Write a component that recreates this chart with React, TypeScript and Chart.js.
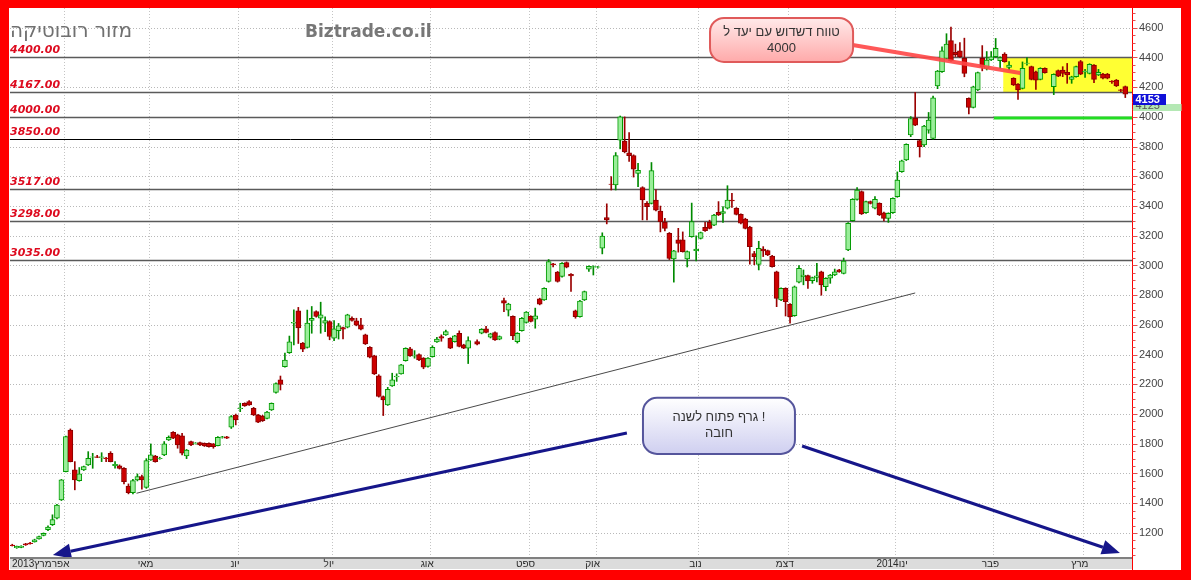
import { useEffect, useRef } from 'react';
import { Chart, registerables } from 'chart.js';
Chart.register(...registerables);

// ---- OHLC data (one slot per trading day, null = no candle) ----
const openP = [
1118,1100,1102,1126,1132,1140,1160,1184,1222,1256,
1299,1422,1613,1893,1624,1552,1624,1658,1710,1712,
1709,1704,1736,1652,1651,1635,1516,1471,1557,1579,
1507,1691,1718,1700,1725,1826,1877,1860,1853,1718,
1815,1801,1808,1803,1803,1799,1788,1842,1846,1911,
1994,2037,2072,2084,2039,1994,1987,1971,2028,2146,
2230,2319,2413,2612,2695,2477,2448,2630,2690,2645,
2612,2623,2510,2562,2582,2585,2645,2627,2600,2533,
2450,2392,2257,2118,2062,2190,2250,2271,2360,2439,
2390,2401,2376,2320,2387,2486,2522,2533,2510,2488,
2544,2466,2443,null,2488,2544,2573,2517,2549,2504,
2764,2700,2657,2488,2562,2616,2657,2638,2775,2769,
2892,3011,2955,2926,3020,2940,2694,2656,2768,2976,
2988,2988,3116,3322,3548,3542,3844,3838,3759,3739,
3620,3524,3418,3418,3441,3367,3290,3216,3044,3172,
3172,3044,3194,3099,3183,3257,3290,3272,3358,3351,
3385,3440,3385,3344,3313,3259,3080,3007,3111,3100,
3064,2958,2768,2846,2739,2662,2887,2925,2932,2898,
2920,2958,2857,2914,2936,2970,2947,3105,3302,3445,
3497,3355,3430,3385,3418,3355,3317,3355,3463,3631,
3710,3878,3990,3840,3811,3911,3855,4208,4304,4394,
4513,4434,4445,4394,4125,4064,4181,4394,4327,4383,
4405,4378,4423,4333,4260,4221,4192,4360,4338,4304,
4253,4327,null,4204,4311,4316,4300,4253,4271,4372,
4302,4293,4349,4282,4289,4289,4240,4248,4182,4204,
null];
const highP = [
1124,1112,1114,1130,1136,1158,1178,1200,1248,1322,
1392,1560,1852,1900,1680,1640,1650,1747,1736,1722,
1740,1708,1747,1680,1658,1640,1530,1560,1597,1590,
1700,1799,1722,1710,1815,1853,1882,1865,1870,1762,
1818,1808,1812,1806,1806,1802,1848,1850,1850,1990,
2000,2073,2076,2090,2045,1998,1992,2018,2075,2210,
2256,2410,2525,2701,2718,2482,2700,2724,2695,2753,
2655,2628,2630,2610,2586,2672,2655,2645,2645,2538,
2455,2396,2265,2122,2180,2275,2271,2335,2446,2450,
2427,2405,2380,2380,2460,2517,2533,2566,2514,2530,
2560,2470,2520,null,2500,2575,2590,2544,2553,2526,
2780,2746,2662,2548,2650,2690,2662,2713,2780,2850,
3040,3015,2960,3020,3024,2945,2700,2765,2828,2998,
2998,2994,3220,3415,3598,3760,4006,4000,3895,3745,
3687,3530,3430,3693,3509,3400,3318,3222,3102,3250,
3226,3098,3420,3200,3225,3290,3305,3344,3430,3396,
3537,3485,3390,3348,3318,3264,3095,3163,3127,3104,
3068,2962,2850,2850,2743,2862,3000,2970,2936,2922,
3014,2962,2918,2940,2976,2974,3050,3288,3450,3525,
3502,3434,3434,3464,3422,3359,3355,3456,3630,3709,
3819,4002,4165,3844,3943,4030,4140,4313,4472,4560,
4605,4490,4500,4530,4129,4207,4302,4480,4440,4440,
4528,4404,4432,4372,4264,4225,4370,4400,4342,4308,
4331,4331,null,4290,4316,4338,4360,4274,4342,4380,
4320,4358,4353,4320,4293,4293,4244,4252,4186,4208,
null];
const lowP = [
1112,1096,1100,1116,1124,1138,1158,1180,1215,1250,
1295,1418,1610,1678,1490,1548,1620,1654,1635,1706,
1680,1680,1678,1636,1630,1530,1463,1463,1550,1494,
1500,1688,1676,1696,1720,1822,1835,1770,1725,1700,
1788,1798,1788,1782,1778,1770,1785,1838,1835,1903,
1927,2016,2052,2058,1990,1942,1950,1968,2024,2140,
2162,2315,2408,2466,2475,2420,2444,2544,2652,2544,
2555,2500,2494,2505,2505,2580,2625,2594,2566,2468,
2378,2266,2114,1990,2058,2186,2220,2268,2356,2388,
2376,2360,2305,2316,2383,2482,2490,2530,2440,2484,
2452,2440,2340,null,2466,2540,2546,2512,2495,2500,
2690,2660,2500,2478,2558,2612,2620,2578,2735,2765,
2888,2990,2888,2922,2984,2825,2645,2652,2764,2960,
2936,2982,3078,3280,3508,3508,3785,3758,3700,3595,
3530,3307,3307,3414,3368,3226,3232,3040,2888,3090,
3090,2990,3190,3030,3178,3230,3246,3268,3336,3290,
3380,3390,3340,3280,3246,3009,3005,2970,3060,3066,
2988,2723,2764,2660,2612,2658,2883,2870,2846,2880,
2890,2800,2830,2880,2932,2954,2943,3100,3298,3440,
3343,3351,3414,3381,3336,3300,3290,3351,3459,3627,
3706,3867,3941,3730,3800,3890,3850,4190,4300,4390,
4374,4406,4401,4270,4020,4060,4177,4310,4316,4379,
4401,4327,4368,4316,4211,4118,4188,4349,4249,4185,
4249,4294,null,4150,4271,4271,4226,4226,4267,4284,
4266,4289,4230,4278,4256,4256,4225,4204,4170,4130,
null];
const closeP = [
1114,1110,1112,1120,1128,1154,1175,1198,1240,1290,
1388,1557,1848,1680,1557,1597,1646,1702,1713,1709,
1712,1700,1680,1662,1635,1545,1471,1552,1579,1557,
1687,1725,1680,1702,1799,1844,1837,1792,1736,1758,
1792,1805,1792,1785,1781,1781,1844,1846,1837,1983,
1960,2041,2054,2061,1994,1945,1956,2014,2072,2206,
2200,2363,2487,2618,2580,2437,2612,2645,2657,2668,
2630,2522,2573,2594,2571,2668,2630,2598,2571,2472,
2383,2271,2118,2096,2167,2230,2255,2331,2443,2392,
2394,2365,2315,2376,2450,2504,2510,2555,2443,2526,
2455,2443,2495,null,2470,2571,2549,2540,2499,2522,
2746,2740,2526,2544,2645,2686,2623,2661,2739,2847,
3026,3004,2892,3015,2988,2930,2656,2761,2824,2994,
2992,2991,3198,3306,3545,3739,4001,3766,3739,3649,
3640,3441,3396,3638,3373,3295,3250,3048,3098,3149,
3093,3093,3295,3110,3221,3234,3250,3340,3340,3362,
3441,3435,3344,3284,3250,3127,3060,3115,3098,3071,
2992,2779,2846,2757,2656,2857,2981,2936,2896,2918,
2930,2869,2914,2936,2958,2958,3030,3284,3445,3508,
3347,3430,3418,3445,3340,3317,3351,3452,3575,3705,
3815,3989,3945,3800,3939,3979,4129,4309,4445,4490,
4378,4419,4405,4293,4064,4203,4298,4338,4383,4405,
4462,4400,4372,4349,4215,4181,4327,4362,4253,4248,
4327,4298,null,4286,4275,4293,4282,4270,4338,4288,
4306,4354,4253,4300,4260,4260,4236,4208,4178,4153,
null];

// ---- axis / annotation values ----
const yMin = 1038;
const yMax = 4733;
const yStep = 200;
const monthStarts = [12, 31, 51, 72, 94, 116, 131, 154, 174, 198, 220, 240];
const monthLabels = ['אפר', 'מאי', 'יונ', 'יול', 'אוג', 'ספט', 'אוק', 'נוב', 'דצמ', 'ינו2014', 'פבר', 'מרץ'];
const firstMonthLabel = 'מרץ2013';
const levelValues = [4400, 4167, 4000, 3850, 3517, 3298, 3035];
const lastValue = 4153;
const hiddenValue = '4125';
const titleHe = 'מזור רובוטיקה';
const titleSite = 'Biztrade.co.il';
const trendLine = [[27.8, 1467], [202, 2815]];
const pointerLine = [[188, 4484], [225.5, 4296]];
const targetLine = [[219.6, 3993], [250.5, 3993]];
const rangeBox = { x0: 221.7, x1: 250.5, lo: 4167, hi: 4400 };
const callout1 = { x0: 156.1, x1: 188.1, lo: 4370, hi: 4666, lines: ['טווח דשדוש עם יעד ל', '4000'] };
const callout2 = { x0: 141.1, x1: 175.1, lo: 1732, hi: 2109, lines: ['גרף פתוח לשנה !', 'חובה'] };
const arrows = [
  [[137.5, 1873], [9.1, 1052]],
  [[176.7, 1785], [247.8, 1065]],
];

const slots = openP.map((_, i) => i);
const labels = slots.map((i) => String(i));
const isUp = (i: number) => (closeP[i] as number) >= (openP[i] as number);

function drawArrow(ctx: CanvasRenderingContext2D, x1: number, y1: number, x2: number, y2: number) {
  const ang = Math.atan2(y2 - y1, x2 - x1);
  const hl = 18, hw = 7.5;
  const bx = x2 - hl * Math.cos(ang), by = y2 - hl * Math.sin(ang);
  ctx.beginPath(); ctx.moveTo(x1, y1); ctx.lineTo(bx, by); ctx.stroke();
  ctx.beginPath();
  ctx.moveTo(x2, y2);
  ctx.lineTo(bx + hw * Math.sin(ang), by - hw * Math.cos(ang));
  ctx.lineTo(bx - hw * Math.sin(ang), by + hw * Math.cos(ang));
  ctx.closePath(); ctx.fill();
}

const backPlugin = {
  id: 'backPlugin',
  beforeDraw(chart: any) {
    const { ctx, chartArea: ca, scales } = chart;
    const x = scales.x, y = scales.y;
    const W = chart.width, H = chart.height;
    ctx.save();
    ctx.fillStyle = '#ff0000';
    ctx.fillRect(0, 0, W, H);
    ctx.fillStyle = '#ffffff';
    ctx.fillRect(9, 8, 1181 - 9, 570 - 8);
    // horizontal dotted grid
    ctx.lineWidth = 1;
    ctx.strokeStyle = '#b8b8b8';
    ctx.setLineDash([1, 2]);
    y.ticks.forEach((t: any) => {
      const py = Math.round(y.getPixelForValue(t.value)) + 0.5;
      ctx.beginPath(); ctx.moveTo(ca.left, py); ctx.lineTo(ca.right, py); ctx.stroke();
    });
    ctx.strokeStyle = '#c4c4c4';
    monthStarts.forEach((k) => {
      const px = Math.round(x.getPixelForValue(k - 0.5)) + 0.5;
      ctx.beginPath(); ctx.moveTo(px, ca.top); ctx.lineTo(px, ca.bottom); ctx.stroke();
    });
    ctx.setLineDash([]);
    // range box
    const bx0 = x.getPixelForValue(rangeBox.x0);
    const bx1 = x.getPixelForValue(rangeBox.x1);
    const by0 = y.getPixelForValue(rangeBox.hi);
    const by1 = y.getPixelForValue(rangeBox.lo);
    ctx.fillStyle = '#ffff33';
    ctx.fillRect(bx0, by0, bx1 - bx0, by1 - by0);
    // level lines + labels
    levelValues.forEach((v) => {
      const py = Math.round(y.getPixelForValue(v)) + 0.5;
      ctx.strokeStyle = v === 3850 ? '#000000' : '#5a5a5a';
      ctx.lineWidth = v === 3850 ? 1 : 1.5;
      ctx.beginPath(); ctx.moveTo(ca.left, py); ctx.lineTo(ca.right, py); ctx.stroke();
      ctx.fillStyle = '#dd0a1e';
      ctx.font = 'italic bold 11px "DejaVu Sans"';
      ctx.textAlign = 'left';
      ctx.textBaseline = 'alphabetic';
      ctx.fillText(v.toFixed(2), 10, py - 5);
    });
    // titles
    ctx.fillStyle = '#707070';
    ctx.font = '20px "DejaVu Sans"';
    ctx.textAlign = 'left';
    ctx.direction = 'ltr';
    ctx.fillText(titleHe, 10, 37);
    ctx.font = 'bold 17px "DejaVu Sans"';
    ctx.fillStyle = '#777777';
    ctx.fillText(titleSite, 305, 37);
    ctx.restore();
  },
};

function drawCallout(ctx: CanvasRenderingContext2D, x: any, y: any, c: any, top: string, bottom: string, stroke: string, textColor: string) {
  const x0 = x.getPixelForValue(c.x0), x1 = x.getPixelForValue(c.x1);
  const y0 = y.getPixelForValue(c.hi), y1 = y.getPixelForValue(c.lo);
  const g = ctx.createLinearGradient(0, y0, 0, y1);
  g.addColorStop(0, top);
  g.addColorStop(1, bottom);
  ctx.beginPath();
  (ctx as any).roundRect(x0, y0, x1 - x0, y1 - y0, 14);
  ctx.fillStyle = g;
  ctx.fill();
  ctx.lineWidth = 2;
  ctx.strokeStyle = stroke;
  ctx.stroke();
  ctx.fillStyle = textColor;
  ctx.font = '13px "Liberation Sans"';
  ctx.textAlign = 'center';
  ctx.textBaseline = 'middle';
  ctx.direction = 'ltr';
  const cx = (x0 + x1) / 2, cy = (y0 + y1) / 2;
  ctx.fillText(c.lines[0], cx, cy - 8);
  ctx.fillText(c.lines[1], cx, cy + 8);
}

const frontPlugin = {
  id: 'frontPlugin',
  afterDatasetsDraw(chart: any) {
    const { ctx, chartArea: ca, scales } = chart;
    const x = scales.x, y = scales.y;
    const P = (p: number[]) => [x.getPixelForValue(p[0]), y.getPixelForValue(p[1])];
    ctx.save();
    // trend line
    let a = P(trendLine[0]), b = P(trendLine[1]);
    ctx.strokeStyle = '#4a4a4a'; ctx.lineWidth = 1;
    ctx.beginPath(); ctx.moveTo(a[0], a[1]); ctx.lineTo(b[0], b[1]); ctx.stroke();
    // target line
    a = P(targetLine[0]); b = P(targetLine[1]);
    ctx.strokeStyle = '#22dd22'; ctx.lineWidth = 3;
    ctx.beginPath(); ctx.moveTo(a[0], a[1]); ctx.lineTo(b[0], b[1]); ctx.stroke();
    // pointer
    a = P(pointerLine[0]); b = P(pointerLine[1]);
    ctx.strokeStyle = 'rgba(255,70,70,0.9)'; ctx.lineWidth = 4;
    ctx.beginPath(); ctx.moveTo(a[0], a[1]); ctx.lineTo(b[0], b[1]); ctx.stroke();
    // arrows
    ctx.strokeStyle = '#16168a'; ctx.fillStyle = '#16168a'; ctx.lineWidth = 3;
    arrows.forEach((ar) => {
      const s = P(ar[0]), e = P(ar[1]);
      drawArrow(ctx, s[0], s[1], e[0], e[1]);
    });
    // callouts
    drawCallout(ctx, x, y, callout1, '#ffeaea', '#ffaaaa', '#e05a5a', '#333333');
    drawCallout(ctx, x, y, callout2, '#ffffff', '#cfcff0', '#55559c', '#333333');
    // x band
    ctx.fillStyle = '#dcdcdc';
    ctx.fillRect(ca.left, ca.bottom, ca.right - ca.left, 569 - ca.bottom);
    ctx.strokeStyle = '#808080'; ctx.lineWidth = 2;
    ctx.beginPath(); ctx.moveTo(ca.left, ca.bottom + 1); ctx.lineTo(ca.right, ca.bottom + 1); ctx.stroke();
    ctx.fillStyle = '#2a2a2a';
    ctx.font = '10px "Liberation Sans"';
    ctx.textBaseline = 'middle';
    ctx.direction = 'ltr';
    ctx.textAlign = 'left';
    ctx.fillText(firstMonthLabel, ca.left + 2, 564);
    ctx.textAlign = 'center';
    monthStarts.forEach((k, i) => {
      const px = x.getPixelForValue(k - 0.5);
      ctx.fillText(monthLabels[i], px - 3, 564);
    });
    // axis line and ticks
    const ax = Math.round(ca.right) + 0.5;
    ctx.strokeStyle = '#ff0000'; ctx.lineWidth = 1;
    ctx.beginPath(); ctx.moveTo(ax, 8); ctx.lineTo(ax, 570); ctx.stroke();
    ctx.strokeStyle = '#e05050';
    for (let v = 1050; v <= 4700; v += 50) {
      const py = Math.round(y.getPixelForValue(v)) + 0.5;
      const len = v % 200 === 0 ? 5 : 3;
      ctx.beginPath(); ctx.moveTo(ax, py); ctx.lineTo(ax + len, py); ctx.stroke();
    }
    // last value boxes
    const vy = Math.round(y.getPixelForValue(lastValue));
    ctx.fillStyle = '#b4e8b4';
    ctx.fillRect(ax + 0.5, vy + 10, 1181 - ax, 7);
    ctx.save();
    ctx.beginPath(); ctx.rect(ax + 0.5, vy + 11, 1181 - ax, 6); ctx.clip();
    ctx.fillStyle = '#555555';
    ctx.font = '11px "Liberation Sans"';
    ctx.textAlign = 'left'; ctx.textBaseline = 'middle';
    ctx.fillText(hiddenValue, ax + 3, vy + 12);
    ctx.restore();
    ctx.fillStyle = '#1010d8';
    ctx.fillRect(ax + 0.5, vy, 33, 11);
    ctx.fillStyle = '#ffffff';
    ctx.font = 'bold 11px "Liberation Sans"';
    ctx.textAlign = 'left'; ctx.textBaseline = 'middle';
    ctx.fillText(String(lastValue), ax + 3, vy + 6);
    ctx.restore();
  },
};

export default function App() {
  const ref = useRef<HTMLCanvasElement>(null);
  useEffect(() => {
    document.body.style.margin = '0';
    document.body.style.overflow = 'hidden';
    const canvas = ref.current as HTMLCanvasElement;
    const chart = new Chart(canvas, {
      type: 'bar',
      data: {
        labels,
        datasets: [
          {
            label: 'body',
            data: slots.map((i) => (openP[i] == null ? null : [openP[i], closeP[i]])) as any,
            backgroundColor: slots.map((i) => (openP[i] == null ? 'transparent' : isUp(i) ? '#9aee9a' : '#cc0000')),
            borderColor: slots.map((i) => (openP[i] == null ? 'transparent' : isUp(i) ? '#009a00' : '#8a0000')),
            borderWidth: 1,
            borderSkipped: false,
            barThickness: 5,
            grouped: false,
            order: 0,
          } as any,
          {
            label: 'wick',
            data: slots.map((i) => (lowP[i] == null ? null : [lowP[i], highP[i]])) as any,
            backgroundColor: slots.map((i) => (openP[i] == null ? 'transparent' : isUp(i) ? '#008a00' : '#9a0000')),
            borderWidth: 0,
            barThickness: 1,
            grouped: false,
            order: 1,
          } as any,
        ],
      },
      options: {
        animation: false,
        responsive: true,
        maintainAspectRatio: false,
        events: [],
        layout: { padding: { left: 10, top: 8, right: 10, bottom: 23 } },
        plugins: { legend: { display: false }, tooltip: { enabled: false } },
        scales: {
          x: { type: 'category', display: false, offset: true, grid: { display: false } },
          y: {
            position: 'right',
            min: yMin,
            max: yMax,
            grid: { display: false, drawTicks: false },
            border: { display: false },
            ticks: {
              stepSize: yStep,
              includeBounds: false,
              padding: 7,
              color: '#444444',
              font: { family: 'Liberation Sans', size: 11 },
              callback: (v: any) => String(v),
            },
            afterFit: (s: any) => { s.width = 49; s.paddingTop = 0; s.paddingBottom = 0; },
          },
        },
      } as any,
      plugins: [backPlugin, frontPlugin],
    });
    return () => chart.destroy();
  }, []);
  return (
    <div style={{ position: 'absolute', left: 0, top: 0, width: 1191, height: 580 }}>
      <canvas ref={ref} />
    </div>
  );
}
